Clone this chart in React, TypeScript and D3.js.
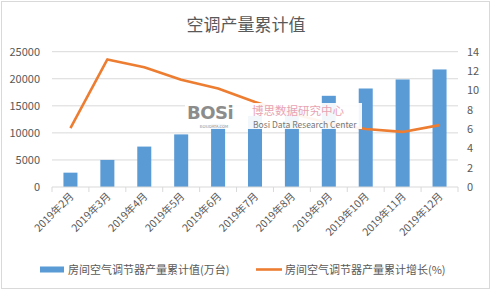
import React from "react";
import * as d3 from "d3";

const months = ["2019年2月", "2019年3月", "2019年4月", "2019年5月", "2019年6月", "2019年7月", "2019年8月", "2019年9月", "2019年10月", "2019年11月", "2019年12月"];
const output = [2650, 5000, 7470, 9720, 11680, 13140, 14510, 16850, 18200, 19870, 21720];
const growth = [6.1, 13.2, 12.4, 11.1, 10.2, 8.8, 7.6, 6.6, 6.0, 5.7, 6.4];
const leftTicks = [0, 5000, 10000, 15000, 20000, 25000];
const rightTicks = [0, 2, 4, 6, 8, 10, 12, 14];

const W = 492;
const H = 291;
const font = "'Noto Sans CJK SC', 'Noto Sans', sans-serif";
const grey = "#595959";

export default function App() {
  const x = d3.scaleBand<string>().domain(months).range([52, 458]).paddingInner(0.62).paddingOuter(0.31);
  const band = d3.scaleBand<string>().domain(months).range([52, 458]);
  const yL = d3.scaleLinear().domain([0, 25000]).range([187, 51.7]);
  const yR = d3.scaleLinear().domain([0, 14]).range([187, 51.7]);

  const linePath = d3
    .line<number>()
    .x((_, i) => (band(months[i]) as number) + band.bandwidth() / 2)
    .y((d) => yR(d))(growth);

  return (
    <div style={{ position: "absolute", left: 0, top: 0 }}>
      <svg width={W} height={H} style={{ display: "block", fontFamily: font }}>
        <rect x={0} y={0} width={W} height={H} fill="#fff" />
        <rect x={1.5} y={1.5} width={488} height={287} fill="none" stroke="#d9d9d9" />
        <text x={246} y={31} textAnchor="middle" fontSize={17} fill={grey}>
          空调产量累计值
        </text>

        {leftTicks.map((t) => (
          <g key={t}>
            {t > 0 && <line x1={52} x2={458} y1={yL(t)} y2={yL(t)} stroke="#d9d9d9" />}
            <text x={40} y={yL(t) + 4} textAnchor="end" fontSize={11} fill={grey}>
              {t}
            </text>
          </g>
        ))}
        {rightTicks.map((t) => (
          <text key={t} x={467} y={yR(t) + 4} fontSize={11} fill={grey}>
            {t}
          </text>
        ))}

        {months.map((m, i) => (
          <rect key={m} x={x(m)} y={yL(output[i])} width={x.bandwidth()} height={187 - yL(output[i])} fill="#5b9bd5" />
        ))}

        <line x1={52} x2={458} y1={187} y2={187} stroke="#d9d9d9" />
        {[...months.map((m) => band(m) as number), 458].map((v, i) => (
          <line key={i} x1={v} x2={v} y1={187} y2={192} stroke="#d9d9d9" />
        ))}

        <path d={linePath || ""} fill="none" stroke="#ed7d31" strokeWidth={2.6} strokeLinejoin="round" />

        {/* watermark */}
        <g>
          <rect x={185} y={103} width={177} height={26} fill="#fff" opacity={0.92} />
          <text x={187} y={119} fontSize={18} fontWeight="bold" fill="#8c8c8c" fontFamily="'DejaVu Sans', sans-serif" letterSpacing={-0.5}>
            BOSi
          </text>
          <text x={214} y={128} fontSize={4} fill="#8c8c8c" textAnchor="middle">
            BOSIDATA.COM
          </text>
          <text x={252} y={114.5} fontSize={11.5} fill="#e8a3b3">
            博思数据研究中心
          </text>
          <text x={253} y={127.5} fontSize={8.5} fill="#777">
            Bosi Data Research Center
          </text>
        </g>

        {months.map((m) => {
          const cx = (band(m) as number) + band.bandwidth() / 2 + 4;
          return (
            <text key={m} x={cx} y={197} textAnchor="end" fontSize={10.5} fill={grey} transform={`rotate(-45 ${cx} 197)`}>
              {m}
            </text>
          );
        })}

        <rect x={40} y={266.5} width={24} height={6} fill="#5b9bd5" />
        <text x={68} y={273.5} fontSize={11} fill={grey}>
          房间空气调节器产量累计值(万台)
        </text>
        <line x1={256} x2={282} y1={269.5} y2={269.5} stroke="#ed7d31" strokeWidth={2.6} />
        <text x={285} y={273.5} fontSize={11} fill={grey}>
          房间空气调节器产量累计增长(%)
        </text>
      </svg>
    </div>
  );
}
